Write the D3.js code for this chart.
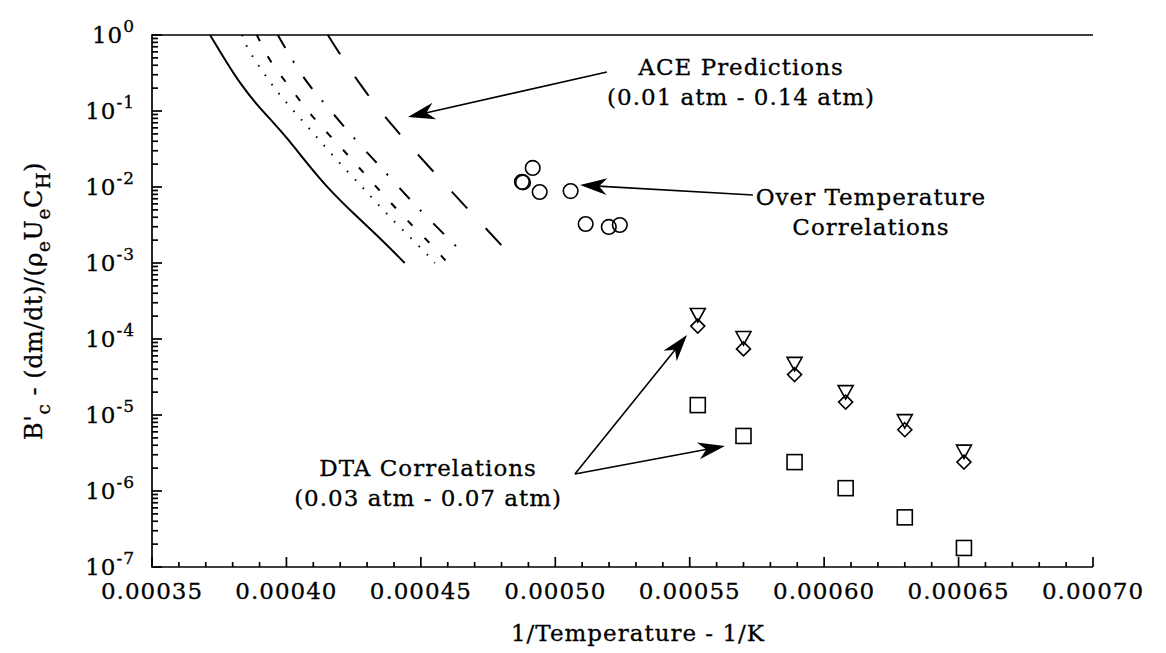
<!DOCTYPE html>
<html>
<head>
<meta charset="utf-8">
<script src="https://cdn.jsdelivr.net/npm/d3@7"></script>
<style>
  body { margin: 0; background: #fff; }
  svg { display: block; }
  text { font-family: "DejaVu Serif", serif; fill: #000; stroke: #000; stroke-width: 0.3px; }
</style>
</head>
<body>
<svg id="chart"></svg>
<script>
// ACE predictions (0.01 atm - 0.14 atm): [1/T, B'c]
const aceSolid = [[0.0003716, 1.0], [0.0003779, 0.428], [0.0003827, 0.233], [0.000389, 0.12], [0.000395, 0.0716],
  [0.0004002, 0.0442], [0.0004076, 0.0207], [0.000415, 0.0100], [0.0004247, 0.00455], [0.0004348, 0.00213], [0.000444, 0.00100]];
const aceDotted = [[0.0003835, 1.0], [0.0003853, 0.675], [0.0003905, 0.357], [0.0003957, 0.195], [0.000402, 0.106],
  [0.0004087, 0.058], [0.0004154, 0.0307], [0.0004229, 0.0157], [0.0004299, 0.0086], [0.0004366, 0.00469],
  [0.000444, 0.00256], [0.0004515, 0.0014], [0.0004552, 0.0010]];
const aceShortDash = [[0.000389, 1.0], [0.0003939, 0.441], [0.0003998, 0.241], [0.0004054, 0.131], [0.0004113, 0.0716],
  [0.0004188, 0.0379], [0.0004255, 0.0207], [0.0004321, 0.0113], [0.0004392, 0.00597], [0.0004466, 0.00316],
  [0.0004537, 0.00178], [0.00046, 0.0010]];
const aceDashDot = [[0.0003968, 1.0], [0.0004028, 0.429], [0.000408, 0.226], [0.0004143, 0.124], [0.0004206, 0.0675],
  [0.0004277, 0.0346], [0.0004344, 0.0194], [0.0004414, 0.0103], [0.0004485, 0.00546], [0.0004556, 0.00307],
  [0.000463, 0.00167], [0.0004652, 0.0014]];
const aceLongDash = [[0.0004154, 1.0], [0.0004277, 0.207], [0.00044, 0.0597], [0.0004541, 0.0167],
  [0.0004678, 0.00498], [0.0004816, 0.00148], [0.0004849, 0.00113]];

// Over temperature correlations
const overTempInvT = [0.0004876, 0.000488, 0.0004916, 0.0004942, 0.0005057, 0.0005113, 0.0005199, 0.000524];
const overTempBc = [0.0117, 0.0115, 0.0178, 0.0086, 0.00885, 0.00326, 0.00298, 0.00316];

// DTA correlations (0.03 atm - 0.07 atm)
const dtaInvT = [0.000553, 0.00057, 0.000589, 0.000608, 0.00063, 0.000652];
const dtaTriangle = [2.07e-4, 1.03e-4, 4.7e-5, 2.0e-5, 8.3e-6, 3.3e-6];
const dtaDiamond = [1.48e-4, 7.4e-5, 3.4e-5, 1.48e-5, 6.4e-6, 2.4e-6];
const dtaSquare = [1.35e-5, 5.3e-6, 2.4e-6, 1.09e-6, 4.5e-7, 1.78e-7];

// axes
const xTicks = [0.00035, 0.0004, 0.00045, 0.0005, 0.00055, 0.0006, 0.00065, 0.0007];
const yExponents = [0, -1, -2, -3, -4, -5, -6, -7];

// annotations, placed in data units
const aceLabel = { x: 0.0005691, y: 0.2976, lines: ['ACE Predictions', '(0.01 atm - 0.14 atm)'] };
const aceArrows = [{ from: [0.0005192, 0.326], to: [0.0004452, 0.0834] }];
const otLabel = { x: 0.0006174, y: 0.0058, lines: ['Over Temperature', 'Correlations'] };
const otArrows = [{ from: [0.0005735, 0.00785], to: [0.0005092, 0.0106] }];
const dtaLabel = { x: 0.0004527, y: 1.575e-6, lines: ['DTA Correlations', '(0.03 atm - 0.07 atm)'] };
const dtaArrows = [{ from: [0.0005073, 1.675e-6], to: [0.000549, 1.13e-4] },
                   { from: [0.0005073, 1.675e-6], to: [0.0005631, 3.91e-6] }];

class BcPlot {
  constructor(_config) {
    this.config = {
      parentElement: _config.parentElement,
      containerWidth: 1166,
      containerHeight: 653,
      margin: { top: 35, right: 73, bottom: 86, left: 152 },
      fontSize: 23
    };
    this.initVis();
  }

  initVis() {
    let vis = this;
    vis.width = vis.config.containerWidth - vis.config.margin.left - vis.config.margin.right;
    vis.height = vis.config.containerHeight - vis.config.margin.top - vis.config.margin.bottom;

    vis.svg = d3.select(vis.config.parentElement)
        .attr('width', vis.config.containerWidth)
        .attr('height', vis.config.containerHeight);

    vis.chart = vis.svg.append('g')
        .attr('transform', `translate(${vis.config.margin.left},${vis.config.margin.top})`);

    vis.xScale = d3.scaleLinear().domain([0.00035, 0.0007]).range([0, vis.width]);
    vis.yScale = d3.scaleLog().domain([1e-7, 1]).range([vis.height, 0]);

    vis.drawAxes();
    vis.drawCurves();
    vis.drawPoints();
    vis.drawNotes();
  }

  drawAxes() {
    let vis = this;
    const fs = vis.config.fontSize;
    const minorY = [];
    for (let e = -7; e < 0; e++) for (let k = 2; k <= 9; k++) minorY.push(k * Math.pow(10, e));
    const minorX = d3.range(36, 70).filter(i => i % 5 !== 0).map(i => i * 1e-5);
    const majorY = yExponents.map(e => Math.pow(10, e));

    const axisG = vis.chart.append('g').attr('stroke', '#000').attr('stroke-width', 1.7);

    // frame: top, left, bottom (no right side in the original)
    axisG.append('path')
        .attr('fill', 'none')
        .attr('d', `M${vis.width},0H0V${vis.height}H${vis.width}`);

    // inward ticks on the y axis
    axisG.selectAll('.ytick')
        .data(majorY.map(v => [v, 10]).concat(minorY.map(v => [v, 6])))
        .join('line')
        .attr('class', 'ytick')
        .attr('x1', 0).attr('x2', d => d[1])
        .attr('y1', d => vis.yScale(d[0])).attr('y2', d => vis.yScale(d[0]));

    // inward ticks on the x axis
    axisG.selectAll('.xtick')
        .data(xTicks.map(v => [v, 10]).concat(minorX.map(v => [v, 5])))
        .join('line')
        .attr('class', 'xtick')
        .attr('x1', d => vis.xScale(d[0])).attr('x2', d => vis.xScale(d[0]))
        .attr('y1', vis.height).attr('y2', d => vis.height - d[1]);

    // x tick labels
    vis.chart.append('g').selectAll('text')
        .data(xTicks)
        .join('text')
        .attr('x', d => vis.xScale(d))
        .attr('y', vis.height + 32)
        .attr('text-anchor', 'middle')
        .style('font-size', fs + 'px')
        .style('letter-spacing', '1px')
        .text(d3.format('.5f'));

    // y tick labels 10^n
    const yLab = vis.chart.append('g').selectAll('text')
        .data(yExponents)
        .join('text')
        .attr('x', -17)
        .attr('y', d => vis.yScale(Math.pow(10, d)) + 8)
        .attr('text-anchor', 'end')
        .style('font-size', fs + 'px')
        .style('letter-spacing', '1px');
    yLab.append('tspan').text('10');
    yLab.append('tspan').attr('dy', -11).style('font-size', '17px').text(d => d === 0 ? '0' : '-' + (-d));

    // axis titles
    vis.svg.append('text')
        .attr('x', 638)
        .attr('y', 641)
        .attr('text-anchor', 'middle')
        .style('font-size', fs + 'px')
        .style('letter-spacing', '1px')
        .text('1/Temperature - 1/K');

    const yt = vis.svg.append('text')
        .attr('transform', `translate(42,${vis.config.margin.top + vis.height / 2}) rotate(-90)`)
        .attr('text-anchor', 'middle')
        .style('font-size', '24px')
        .style('letter-spacing', '0.5px');
    const parts = [['B\'', 0], ['c', 1], [' - (dm/dt)/(ρ', 0], ['e', 1], ['U', 0], ['e', 1], ['C', 0], ['H', 1], [')', 0]];
    let prev = 0;
    parts.forEach(([t, sub]) => {
      yt.append('tspan')
          .attr('dy', (sub - prev) * 8)
          .style('font-size', sub ? '19px' : '24px')
          .text(t);
      prev = sub;
    });
  }

  drawCurves() {
    let vis = this;
    const line = d3.line()
        .x(d => vis.xScale(d[0]))
        .y(d => vis.yScale(d[1]))
        .curve(d3.curveBasis);
    const curves = [
      { data: aceSolid, dash: null },
      { data: aceDotted, dash: '1.5,10' },
      { data: aceShortDash, dash: '7,17' },
      { data: aceDashDot, dash: '15,15,2,17' },
      { data: aceLongDash, dash: '23,27' }
    ];
    vis.chart.append('g').selectAll('path')
        .data(curves)
        .join('path')
        .attr('d', d => line(d.data))
        .attr('fill', 'none')
        .attr('stroke', '#000')
        .attr('stroke-width', 2)
        .attr('stroke-dasharray', d => d.dash);
  }

  drawPoints() {
    let vis = this;
    const g = vis.chart.append('g').attr('fill', 'none').attr('stroke', '#000').attr('stroke-width', 1.6);

    g.selectAll('.ot')
        .data(overTempInvT.map((d, i) => [d, overTempBc[i]]))
        .join('circle')
        .attr('class', 'ot')
        .attr('cx', d => vis.xScale(d[0]))
        .attr('cy', d => vis.yScale(d[1]))
        .attr('r', 7.3);

    const dta = dtaInvT.map((d, i) => ({ x: d, tri: dtaTriangle[i], dia: dtaDiamond[i], sq: dtaSquare[i] }));
    g.selectAll('.tri')
        .data(dta)
        .join('path')
        .attr('class', 'tri')
        .attr('transform', d => `translate(${vis.xScale(d.x)},${vis.yScale(d.tri)})`)
        .attr('d', 'M-7.5,-6.5L7.5,-6.5L0,7Z');
    g.selectAll('.dia')
        .data(dta)
        .join('path')
        .attr('class', 'dia')
        .attr('transform', d => `translate(${vis.xScale(d.x)},${vis.yScale(d.dia)})`)
        .attr('d', 'M0,-7L7,0L0,7L-7,0Z');
    g.selectAll('.sq')
        .data(dta)
        .join('rect')
        .attr('class', 'sq')
        .attr('x', d => vis.xScale(d.x) - 7.5)
        .attr('y', d => vis.yScale(d.sq) - 7.5)
        .attr('width', 15)
        .attr('height', 15);
  }

  drawNotes() {
    let vis = this;
    [aceLabel, otLabel, dtaLabel].forEach(lab => {
      vis.chart.append('text')
          .attr('text-anchor', 'middle')
          .style('font-size', vis.config.fontSize + 'px')
          .style('letter-spacing', '1px')
          .selectAll('tspan')
          .data(lab.lines)
          .join('tspan')
          .attr('x', vis.xScale(lab.x))
          .attr('y', (d, i) => vis.yScale(lab.y) + i * 30)
          .text(d => d);
    });

    const arrows = aceArrows.concat(otArrows, dtaArrows);
    arrows.forEach(a => {
      const x0 = vis.xScale(a.from[0]), y0 = vis.yScale(a.from[1]);
      const x1 = vis.xScale(a.to[0]), y1 = vis.yScale(a.to[1]);
      const ang = Math.atan2(y1 - y0, x1 - x0);
      vis.chart.append('line')
          .attr('x1', x0).attr('y1', y0)
          .attr('x2', x1 - 18 * Math.cos(ang)).attr('y2', y1 - 18 * Math.sin(ang))
          .attr('stroke', '#000').attr('stroke-width', 1.6);
      vis.chart.append('path')
          .attr('d', 'M0,0L-27,-8.5L-19,0L-27,8.5Z')
          .attr('transform', `translate(${x1},${y1}) rotate(${ang * 180 / Math.PI})`)
          .attr('fill', '#000');
    });
  }
}

new BcPlot({ parentElement: '#chart' });
</script>
</body>
</html>
